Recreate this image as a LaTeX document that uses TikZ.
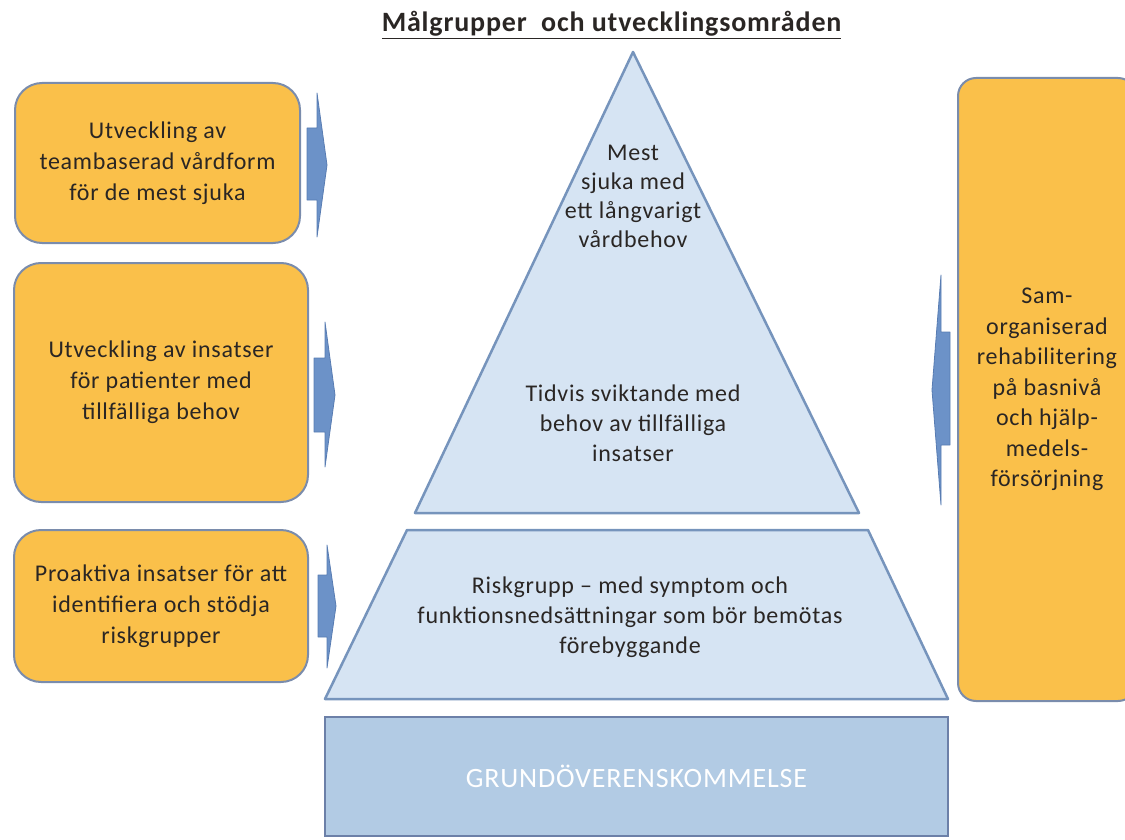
\documentclass[tikz,border=0pt]{standalone}
\usepackage{fontspec}
\setmainfont{Carlito}[LetterSpace=3]

\definecolor{boxfill}{RGB}{250,192,74}
\definecolor{boxedge}{RGB}{122,140,172}
\definecolor{levelfill}{RGB}{214,228,243}
\definecolor{leveledge}{RGB}{118,148,188}
\definecolor{basefill}{RGB}{178,203,228}
\definecolor{baseedge}{RGB}{108,128,168}
\definecolor{arrowfill}{RGB}{108,146,200}
\definecolor{arrowedge}{RGB}{88,124,178}
\definecolor{textdark}{RGB}{42,38,36}

\tikzset{
  goalbox/.style={draw=boxedge, fill=boxfill, line width=2pt, rounded corners=27pt,
    align=center, text=textdark, font=\fontsize{24}{31}\selectfont},
  level/.style={draw=leveledge, fill=levelfill, line width=2.5pt, line join=round},
  leveltext/.style={align=center, text=textdark, font=\fontsize{24}{30}\selectfont},
  pusharrow/.style={draw=arrowedge, fill=arrowfill, line width=0.8pt, line join=round}
}

\begin{document}
\begin{tikzpicture}[x=1pt, y=-1pt]

\useasboundingbox (0,0) rectangle (1125,840);
\clip (0,0) rectangle (1125,840);

% 1. Title
\node[anchor=east, text=textdark, font=\fontsize{28}{32}\selectfont\bfseries] (title) at (845,25)
  {\underline{Målgrupper\ \ och utvecklingsområden}};

% 2. Corners of the pyramid
\coordinate (T) at (633,52);
\coordinate (TL) at (415,513);
\coordinate (TR) at (859,513);
\coordinate (RTL) at (407,530);
\coordinate (RTR) at (868,530);
\coordinate (RBR) at (948,699);
\coordinate (RBL) at (325,699);

% 3. Triangle and the risk level below it
\draw[level] (T) -- (TR) -- (TL) -- cycle;
\draw[level] (RTL) -- (RTR) -- (RBR) -- (RBL) -- cycle;

% 4. Base of the pyramid
\node[draw=baseedge, fill=basefill, line width=2pt, minimum width=623pt, minimum height=119pt,
  text=white, font=\fontsize{28}{32}\selectfont] (grund) at (636.5,776.5) {GRUNDÖVERENSKOMMELSE};

% 5. Texts inside the pyramid
\node[leveltext, font=\fontsize{24}{29}\selectfont] (mest) at (633,196)
  {Mest\\sjuka med\\ett långvarigt\\vårdbehov};
\node[leveltext] (tidvis) at (633,423)
  {Tidvis sviktande med\\behov av tillfälliga\\insatser};
\node[leveltext] (risk) at (630,617)
  {Riskgrupp – med symptom och\\funktionsnedsättningar som bör bemötas\\förebyggande};

% 6. Development areas on the left
\node[goalbox, minimum width=285pt, minimum height=160pt] (team) at (157.5,163)
  {Utveckling av\\teambaserad vårdform\\för de mest sjuka};
\node[goalbox, minimum width=294pt, minimum height=239pt] (insats) at (161,382.5)
  {Utveckling av insatser\\för patienter med\\tillfälliga behov};
\node[goalbox, minimum width=294pt, minimum height=152pt] (proaktiv) at (161,606)
  {Proaktiva insatser för att\\identifiera och stödja\\riskgrupper};

% 7. Development area on the right
\node[goalbox, rounded corners=18pt, minimum width=178pt, minimum height=623pt,
  font=\fontsize{24}{30.5}\selectfont] (rehab) at (1047,389.5)
  {Sam-\\organiserad\\rehabilitering\\på basnivå\\och hjälp-\\medels-\\försörjning};

% 8. Thin arrows towards the pyramid
\draw[pusharrow] (307,128) -- (317,128) -- (317,93) -- (327,165) -- (317,237) -- (317,200) -- (307,200) -- cycle;
\draw[pusharrow] (314,358) -- (325,358) -- (325,322) -- (335,395) -- (325,467) -- (325,432) -- (314,432) -- cycle;
\draw[pusharrow] (318,575) -- (327,575) -- (327,545) -- (336,606) -- (327,668) -- (327,637) -- (318,637) -- cycle;
\draw[pusharrow] (950,332) -- (941,332) -- (941,275) -- (932,390) -- (941,505) -- (941,445) -- (950,445) -- cycle;

\end{tikzpicture}
\end{document}
